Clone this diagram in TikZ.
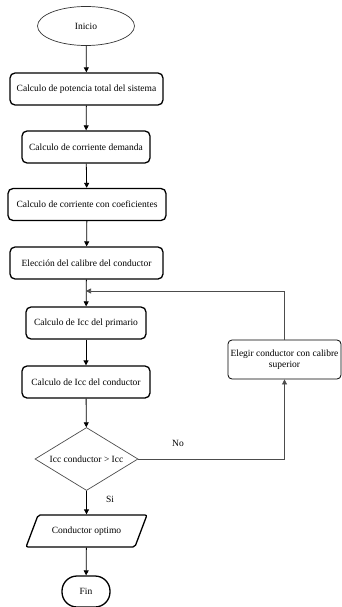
\documentclass[tikz,border=0pt]{standalone}
\usepackage{fontspec}
\setmainfont{Liberation Serif}
\usetikzlibrary{shapes.geometric,arrows.meta}

\begin{document}
\begin{tikzpicture}[x=1pt,y=1pt,
  font=\fontsize{9.5}{11}\selectfont,
  proc/.style={draw,line width=1.3pt,rounded corners=5pt,minimum height=32pt,inner sep=2pt},
  flow/.style={draw,line width=0.8pt,-{Triangle[length=5pt,width=5pt]}},
  back/.style={draw=black!70,line width=0.7pt,-{Triangle[length=5pt,width=5pt]}}]
\useasboundingbox (0,0) rectangle (342,-607);
\node[draw=black!80,line width=0.7pt,ellipse,minimum width=97pt,minimum height=39pt,inner sep=0pt] (inicio) at (86,-26) {Inicio};
\node[proc,minimum width=153pt] (pot) at (86.5,-89) {Calculo de potencia total del sistema};
\node[proc,minimum width=128pt] (dem) at (86,-147) {Calculo de corriente demanda};
\node[proc,minimum width=158pt] (coef) at (87,-204.5) {Calculo de corriente con coeficientes};
\node[proc,minimum width=153pt] (cal) at (86.5,-263) {Elección del calibre del conductor};
\coordinate (junta) at (86,-291);
\node[proc,minimum width=120pt] (prim) at (86,-323) {Calculo de Icc del primario};
\node[proc,minimum width=128pt] (icc) at (86,-382) {Calculo de Icc del conductor};
\node[draw=black!70,line width=0.7pt,diamond,aspect=1.6,minimum width=103pt,minimum height=63pt,inner sep=0pt] (dec) at (86.5,-459) {Icc conductor > Icc};
\node[draw,line width=1.3pt,trapezium,trapezium left angle=50,trapezium right angle=130,trapezium stretches=true,minimum width=121pt,minimum height=32pt,inner sep=1pt,rounded corners=2pt] (opt) at (86.5,-531) {Conductor optimo};
\node[draw,line width=1.3pt,rounded corners=15pt,minimum width=48pt,minimum height=31pt] (fin) at (86,-591.5) {Fin};
\node[draw,line width=0.8pt,rounded corners=4pt,minimum width=113pt,minimum height=39pt,inner sep=0pt,align=center] (sup) at (284.5,-359.5) {Elegir conductor con calibre\\superior};

% camino principal
\draw[flow] (inicio) -- (pot);
\draw[flow] (pot) -- (dem);
\draw[flow] (dem) -- (coef);
\draw[flow] (coef) -- (cal);
\draw[flow] (cal) -- (prim);
\draw[flow] (prim) -- (icc);
\draw[flow] (icc) -- (dec);
\draw[flow] (dec) -- (opt);
\draw[flow] (opt) -- (fin);

% lazo de retorno
\draw[back] (dec.east) -| (sup.south);
\draw[back] (sup.north) |- (junta);
\node (no) at (178,-443) {No};
\node (si) at (110,-499) {Si};
\end{tikzpicture}
\end{document}
